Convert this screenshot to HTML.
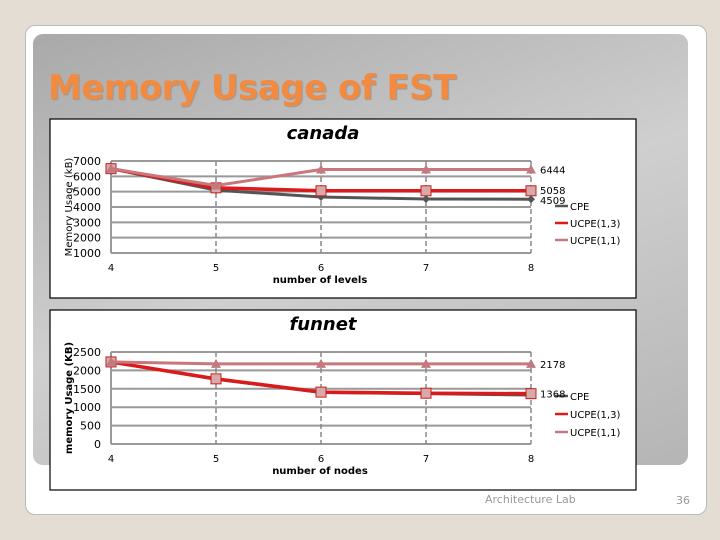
<!DOCTYPE html>
<html><head><meta charset="utf-8"><style>
body{margin:0;width:720px;height:540px;background:#e3ddd3;position:relative;overflow:hidden;font-family:"Liberation Sans",sans-serif}
#card{position:absolute;left:25px;top:25px;width:680px;height:488px;background:#fff;border-radius:10px;border:1px solid #bbb}
#panel{position:absolute;left:33px;top:34px;width:655px;height:431px;border-radius:10px;background:linear-gradient(160deg,#a9a9a9,#cfcfcf 50%,#b5b5b5)}
#title{position:absolute;left:48px;top:68px;font:bold 34px "DejaVu Sans",sans-serif;color:#f28a40;text-shadow:1px 1px 1px #999;letter-spacing:-0.5px}
.foot{position:absolute;font:11px "DejaVu Sans",sans-serif;color:#999}
svg{position:absolute;left:0;top:0}
</style></head><body>
<div id="card"></div>
<div id="panel"></div>
<div id="title">Memory Usage of FST</div>
<div class="foot" style="left:485px;top:493px">Architecture Lab</div>
<div class="foot" style="left:676px;top:494px">36</div>
<svg id="s" width="720" height="540"></svg>
<script>
const xCats=[4,5,6,7,8];
const canadaCPE=[6500,5100,4650,4520,4509];
const canadaU13=[6500,5250,5058,5058,5058];
const canadaU11=[6500,5400,6444,6444,6444];
const canadaTicks=[1000,2000,3000,4000,5000,6000,7000];
const funnetCPE=[2230,1760,1400,1370,1330];
const funnetU13=[2230,1770,1410,1380,1368];
const funnetU11=[2230,2178,2178,2178,2178];
const funnetTicks=[0,500,1000,1500,2000,2500];
const seriesNames=["CPE","UCPE(1,3)","UCPE(1,1)"];

const NS="http://www.w3.org/2000/svg";
const svg=document.getElementById('s');
function mk(t,a,txt){const e=document.createElementNS(NS,t);for(const k in a)e.setAttribute(k,a[k]);if(txt!==undefined)e.textContent=txt;svg.appendChild(e);return e;}

function chart(cfg){
  const {box,top,bottom,min,max,ticks,series,title,xTitle,yTitle,labels,legY}=cfg;
  const x0=111,x1=531;
  const X=i=>x0+(x1-x0)*(xCats[i]-xCats[0])/(xCats[xCats.length-1]-xCats[0]);
  const Y=v=>bottom-(bottom-top)*(v-min)/(max-min);
  let e=mk('rect',{x:box[0],y:box[1],width:box[2],height:box[3],fill:'#fff',stroke:'#000','stroke-width':1.2});
  
  e=mk('text',{x:box[0]+box[2]/2-20,y:box[1]+20,'font-size':18,'font-style':'italic','font-weight':'bold','text-anchor':'middle','font-family':'DejaVu Sans, sans-serif'},title);
  
  ticks.forEach(t=>{
    e=mk('line',{x1:x0,x2:x1,y1:Y(t),y2:Y(t),stroke:'#999','stroke-width':2});
    
    e=mk('text',{x:x0-10,y:Y(t)+4,'font-size':11,'text-anchor':'end','font-family':'DejaVu Sans, sans-serif'},t);
    
  });
  xCats.forEach((c,i)=>{
    if(i>0){e=mk('line',{x1:X(i),x2:X(i),y1:top,y2:bottom,stroke:'#888','stroke-width':1.5,'stroke-dasharray':'5,3'});
    }
    e=mk('text',{x:X(i),y:bottom+18,'font-size':10,'text-anchor':'middle','font-family':'DejaVu Sans, sans-serif'},c);
    
  });
  e=mk('line',{x1:x0,x2:x0,y1:top,y2:bottom,stroke:'#999','stroke-width':2});
  
  e=mk('text',{x:320,y:bottom+30,'font-size':10,'font-weight':'bold','text-anchor':'middle','font-family':'DejaVu Sans, sans-serif'},xTitle);
  
  const yc=(top+bottom)/2;
  e=mk('text',{x:0,y:0,'font-size':cfg.yFs,'font-weight':cfg.yBold?'bold':'normal','text-anchor':'middle','font-family':'DejaVu Sans, sans-serif',transform:`translate(${cfg.yx},${yc}) rotate(-90)`},yTitle);
  
  const styles=[{c:'#555',w:3,m:'d'},{c:'#dd1a1a',w:3.5,m:'s'},{c:'#c8787c',w:3,m:'t'}];
  series.forEach((vals,si)=>{
    const st=styles[si];
    const pts=vals.map((v,i)=>X(i)+','+Y(v)).join(' ');
    e=mk('polyline',{points:pts,fill:'none',stroke:st.c,'stroke-width':st.w});
    
    vals.forEach((v,i)=>{
      const px=X(i),py=Y(v);
      if(st.m==='s')e=mk('rect',{x:px-5,y:py-5,width:10,height:10,fill:'#d9a9a9',stroke:'#c02020','stroke-width':1});
      else if(st.m==='d')e=mk('polygon',{points:`${px},${py-4} ${px+4},${py} ${px},${py+4} ${px-4},${py}`,fill:'#555'});
      else e=mk('polygon',{points:`${px},${py-5} ${px+5},${py+4} ${px-5},${py+4}`,fill:'#c07a80'});
      
    });
    const ly=legY[si];
    e=mk('line',{x1:555,x2:568,y1:ly,y2:ly,stroke:st.c,'stroke-width':2.5});
    
    e=mk('text',{x:570,y:ly+4,'font-size':10,'font-family':'DejaVu Sans, sans-serif'},seriesNames[si]);
    
  });
  labels.forEach(l=>{
    const v=series[l.s][xCats.length-1];
    e=mk('text',{x:540,y:Y(v)+4+l.dy,'font-size':10,'font-family':'DejaVu Sans, sans-serif'},v);
    
  });
}
chart({id:'canada',box:[50,119,586,179],top:161,bottom:253,min:1000,max:7000,ticks:canadaTicks,
  series:[canadaCPE,canadaU13,canadaU11],title:'canada',xTitle:'number of levels',yTitle:'Memory Usage (kB)',yx:72,yFs:10,yBold:false,
  labels:[{s:2,dy:0},{s:1,dy:-1},{s:0,dy:1}],legY:[206,223,240]});
chart({id:'funnet',box:[50,310,586,180],top:352,bottom:444,min:0,max:2500,ticks:funnetTicks,
  series:[funnetCPE,funnetU13,funnetU11],title:'funnet',xTitle:'number of nodes',yTitle:'memory Usage (KB)',yx:72,yFs:10,yBold:true,
  labels:[{s:2,dy:0},{s:1,dy:0}],legY:[396,414,432]});
</script>
</body></html>
